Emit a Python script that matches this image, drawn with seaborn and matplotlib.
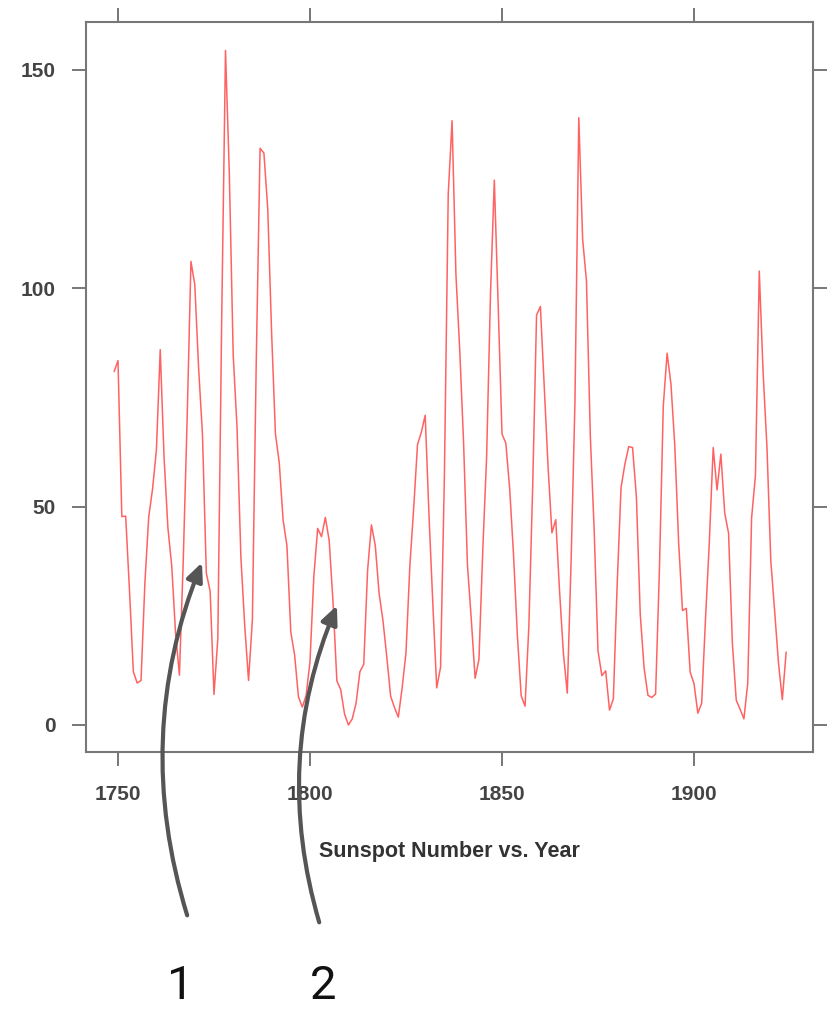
import numpy as np
import pandas as pd
import matplotlib
matplotlib.use("Agg")
import matplotlib.pyplot as plt
import seaborn as sns

years = list(range(1749, 1925))
sunspots = [
    80.9,
    83.4, 47.7, 47.8, 30.7, 12.2, 9.6, 10.2, 32.4, 47.6, 54.0,
    62.9, 85.9, 61.2, 45.1, 36.4, 20.9, 11.4, 37.8, 69.8, 106.1,
    100.8, 81.6, 66.5, 34.8, 30.6, 7.0, 19.8, 92.5, 154.4, 125.9,
    84.8, 68.1, 38.5, 22.8, 10.2, 24.1, 82.9, 132.0, 130.9, 118.1,
    89.9, 66.6, 60.0, 46.9, 41.0, 21.3, 16.0, 6.4, 4.1, 6.8,
    14.5, 34.0, 45.0, 43.1, 47.5, 42.2, 28.1, 10.1, 8.1, 2.5,
    0.0, 1.4, 5.0, 12.2, 13.9, 35.4, 45.8, 41.1, 30.1, 23.9,
    15.6, 6.6, 4.0, 1.8, 8.5, 16.6, 36.3, 49.6, 64.2, 67.0,
    70.9, 47.8, 27.5, 8.5, 13.2, 56.9, 121.5, 138.3, 103.2, 85.7,
    64.6, 36.7, 24.2, 10.7, 15.0, 40.1, 61.5, 98.5, 124.7, 96.3,
    66.6, 64.5, 54.1, 39.0, 20.6, 6.7, 4.3, 22.7, 54.8, 93.8,
    95.8, 77.2, 59.1, 44.0, 47.0, 30.5, 16.3, 7.3, 37.6, 74.0,
    139.0, 111.2, 101.6, 66.2, 44.7, 17.0, 11.3, 12.4, 3.4, 6.0,
    32.3, 54.3, 59.7, 63.7, 63.5, 52.2, 25.4, 13.1, 6.8, 6.3,
    7.1, 35.6, 73.0, 85.1, 78.0, 64.0, 41.8, 26.2, 26.7, 12.1,
    9.5, 2.7, 5.0, 24.4, 42.0, 63.5, 53.8, 62.0, 48.5, 43.9,
    18.6, 5.7, 3.6, 1.4, 9.6, 47.4, 57.1, 103.9, 80.6, 63.6,
    37.6, 26.1, 14.2, 5.8, 16.7,
]
x_ticks = [1750, 1800, 1850, 1900]
y_ticks = [0, 50, 100, 150]
x_label = "Sunspot Number vs. Year"
marker_labels = ["1", "2"]

df = pd.DataFrame({"year": years, "sunspots": sunspots})

sns.set_style("white")
plt.rcParams["font.family"] = ["Liberation Sans", "DejaVu Sans"]

W, H = 835, 1009
fig = plt.figure(figsize=(W / 100, H / 100), dpi=100)
L, R, T, B = 86, 813, 22, 752
ax = fig.add_axes([L / W, 1 - B / H, (R - L) / W, (B - T) / H])

sns.lineplot(data=df, x="year", y="sunspots", ax=ax, color="#ff3b3b",
             alpha=0.8, linewidth=1.1)

ax.set_xlim(1741.67, 1930.99)
ax.set_ylim(-6.18, 160.9)
ax.set_xticks(x_ticks)
ax.set_yticks(y_ticks)
ax.set_xlabel("")
ax.set_ylabel("")
for s in ax.spines.values():
    s.set_color("#777777")
    s.set_linewidth(1.5)
    s.set_visible(True)
ax.tick_params(axis="both", which="both", direction="out", length=10,
               width=1.4, color="#777777", labelcolor="#444444",
               labelsize=15,
               top=True, right=True, labeltop=False, labelright=False,
               bottom=True, left=True)
ax.tick_params(axis="x", pad=14)
ax.tick_params(axis="y", pad=12)
for lab in ax.get_xticklabels() + ax.get_yticklabels():
    lab.set_fontweight("bold")

fig.text((L + R) / 2 / W, 1 - 851 / H, x_label, ha="center", va="center",
         fontsize=15.5, fontweight="bold", color="#333333")

# annotation arrows
arrows = [((188, 918), (203, 560)), ((320, 925), (338, 603))]
for (sx, sy), (ex, ey) in arrows:
    fig.add_artist(matplotlib.patches.FancyArrowPatch(
        (sx / W, 1 - sy / H), (ex / W, 1 - ey / H),
        transform=fig.transFigure, connectionstyle="arc3,rad=-0.18",
        arrowstyle="-|>,head_length=11,head_width=5",
        color="#555555", linewidth=3, mutation_scale=1))

for lab, xp in zip(marker_labels, [180, 323]):
    fig.text(xp / W, 1 - 999 / H, lab, ha="center", va="baseline",
             fontsize=34, fontweight="normal", color="#111111",
             family=["Roboto", "DejaVu Sans"])

fig.savefig("out.png", dpi=100)
